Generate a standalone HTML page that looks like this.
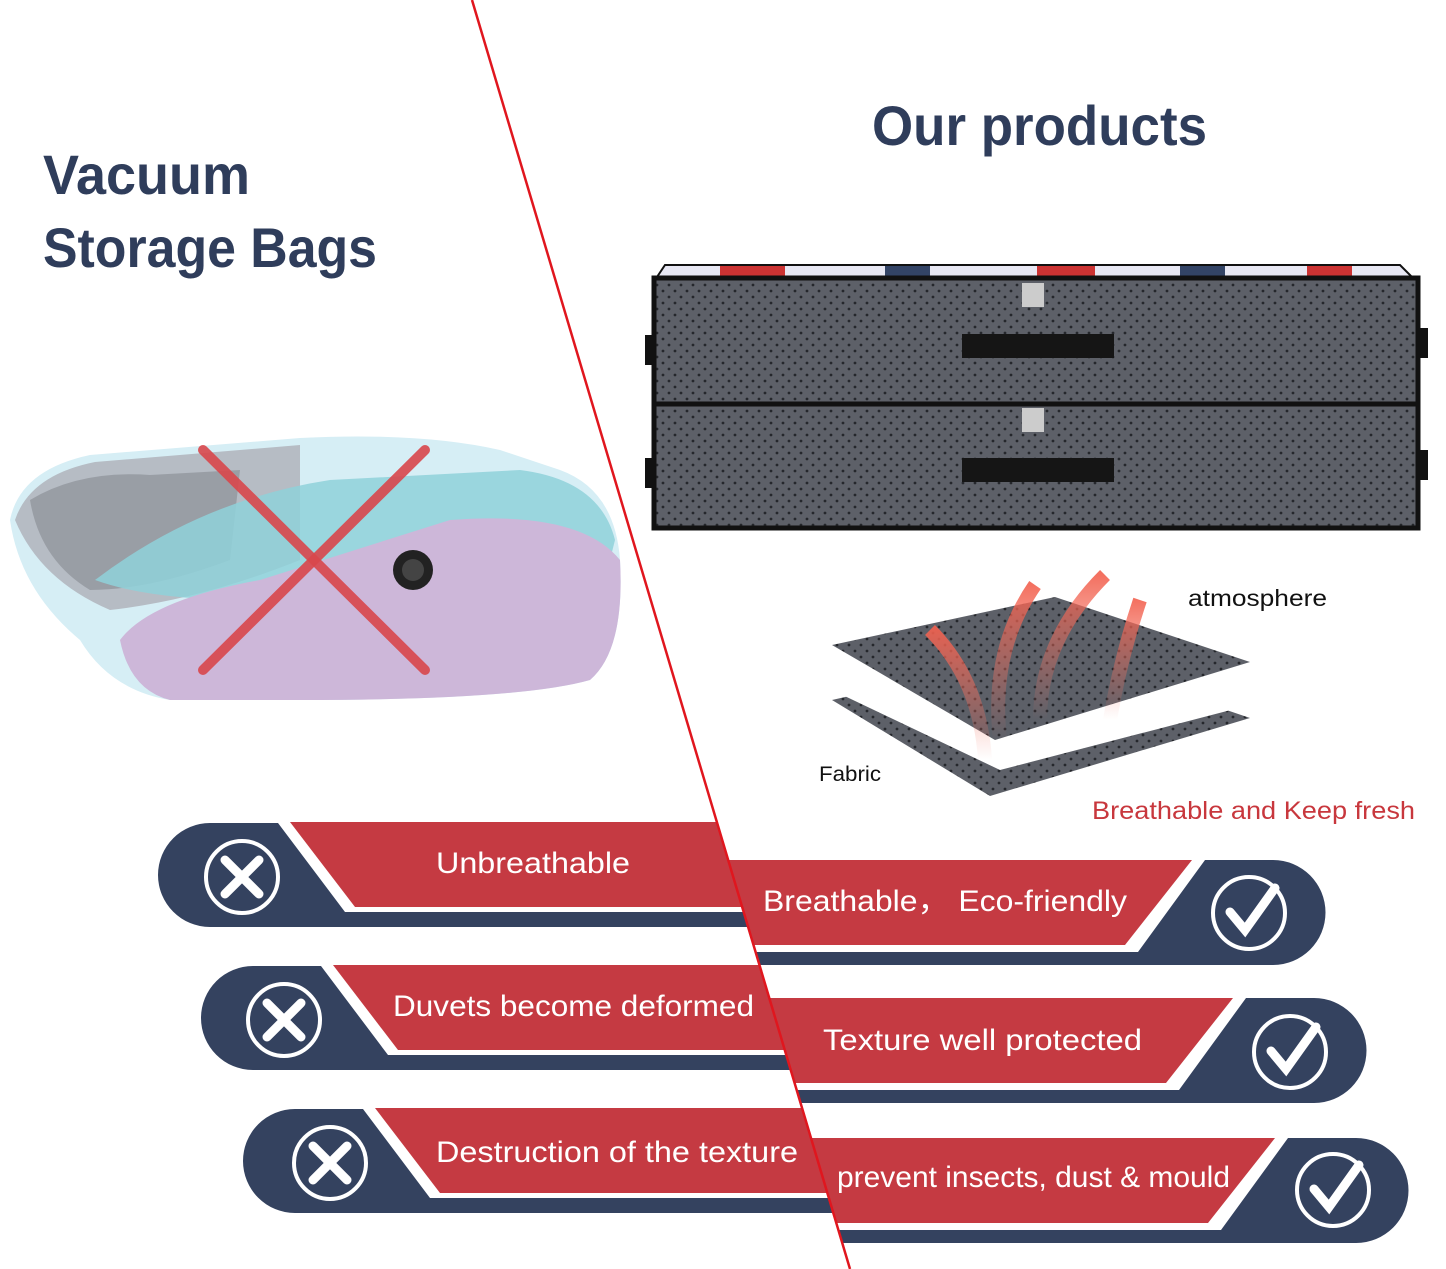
<!DOCTYPE html>
<html><head><meta charset="utf-8"><style>
body{margin:0;background:#fff}
svg{display:block}
text{font-family:"Liberation Sans","Noto Sans CJK SC",sans-serif}
</style></head><body>
<svg width="1446" height="1269" viewBox="0 0 1446 1269" xmlns="http://www.w3.org/2000/svg">
<defs>
<clipPath id="L"><polygon points="0,0 472,0 850,1269 0,1269"/></clipPath>
<clipPath id="R"><polygon points="472,0 1446,0 1446,1269 850,1269"/></clipPath>
<pattern id="dots" width="12" height="12" patternUnits="userSpaceOnUse">
<rect width="12" height="12" fill="#5d6068"/><circle cx="3" cy="3" r="1.4" fill="#25272c"/><circle cx="9" cy="9" r="1.4" fill="#25272c"/></pattern>
<linearGradient id="arr" x1="0" y1="1" x2="0" y2="0"><stop offset="0" stop-color="#f2796a" stop-opacity="0"/><stop offset="1" stop-color="#f2614f" stop-opacity="0.9"/></linearGradient>
</defs>

<text x="43" y="194" font-size="56" font-weight="bold" fill="#2f3d5b" textLength="207" lengthAdjust="spacingAndGlyphs">Vacuum</text>
<text x="43" y="267" font-size="56" font-weight="bold" fill="#2f3d5b" textLength="334" lengthAdjust="spacingAndGlyphs">Storage Bags</text>
<text x="872" y="145" font-size="56" font-weight="bold" fill="#2f3d5b" textLength="335" lengthAdjust="spacingAndGlyphs">Our products</text>

<g>
<path d="M10,520 Q20,470 90,455 L300,438 Q420,432 500,450 L560,470 Q615,490 620,560 Q625,650 590,680 Q520,700 300,700 L170,700 Q110,690 80,640 Q20,590 10,520Z" fill="#d6eef5"/>
<path d="M15,520 Q30,475 95,462 L300,445 L300,560 Q200,600 110,610 Q40,580 15,520Z" fill="#b6bcc4"/>
<path d="M30,500 Q80,470 150,475 L240,470 L230,560 Q150,590 90,590 Q40,560 30,500Z" fill="#8d9199" opacity="0.7"/>
<path d="M95,580 Q200,500 330,480 L520,470 Q600,480 615,540 L600,600 Q400,610 250,600 Q150,600 95,580Z" fill="#8fd1d9" opacity="0.85"/>
<path d="M120,640 Q150,600 260,580 L450,520 Q580,510 620,560 Q625,650 590,680 Q520,700 300,700 L170,700 Q130,690 120,640Z" fill="#cdb7d9"/>
<circle cx="413" cy="570" r="20" fill="#222"/><circle cx="413" cy="570" r="11" fill="#444"/>
<line x1="203" y1="450" x2="425" y2="670" stroke="#d9474c" stroke-width="10" stroke-linecap="round" opacity="0.9"/>
<line x1="425" y1="450" x2="203" y2="670" stroke="#d9474c" stroke-width="10" stroke-linecap="round" opacity="0.9"/>
</g>

<g>
<polygon points="665,265 1400,265 1415,280 655,280" fill="#e8e8f4" stroke="#111" stroke-width="2"/>
<rect x="720" y="266" width="65" height="13" fill="#c33"/><rect x="885" y="266" width="45" height="13" fill="#334466"/>
<rect x="1037" y="266" width="58" height="13" fill="#c33"/><rect x="1180" y="266" width="45" height="13" fill="#334466"/>
<rect x="1307" y="266" width="45" height="13" fill="#c33"/>
<rect x="654" y="278" width="764" height="128" fill="url(#dots)" stroke="#111" stroke-width="5"/>
<rect x="654" y="404" width="764" height="124" fill="url(#dots)" stroke="#111" stroke-width="5"/>
<rect x="962" y="334" width="152" height="24" fill="#151515"/>
<rect x="962" y="458" width="152" height="24" fill="#151515"/>
<rect x="1022" y="283" width="22" height="24" fill="#ccc"/><rect x="1022" y="408" width="22" height="24" fill="#ccc"/>
<rect x="645" y="335" width="10" height="30" fill="#111"/><rect x="645" y="458" width="10" height="30" fill="#111"/>
<rect x="1418" y="328" width="10" height="30" fill="#111"/><rect x="1418" y="450" width="10" height="30" fill="#111"/>
</g>

<polygon points="832,700 1050,650 1250,718 990,796" fill="url(#dots)"/>
<polygon points="832,690 1050,640 1250,705 1000,770" fill="#fff"/>
<polygon points="832,645 1055,597 1250,662 995,740" fill="url(#dots)"/>
<g fill="none" stroke="url(#arr)" stroke-width="14">
<path d="M985,760 Q980,680 930,630"/><path d="M1000,740 Q990,650 1035,585"/><path d="M1040,720 Q1040,640 1105,575"/><path d="M1110,720 Q1120,660 1140,600"/>
</g>
<text x="1188" y="606" font-size="23" fill="#111" textLength="139" lengthAdjust="spacingAndGlyphs">atmosphere</text>
<text x="819" y="781" font-size="21" fill="#111" textLength="62" lengthAdjust="spacingAndGlyphs">Fabric</text>
<text x="1092" y="819" font-size="25" fill="#c8373d" textLength="323" lengthAdjust="spacingAndGlyphs">Breathable and Keep fresh</text>

<g clip-path="url(#L)">
<g id="l1">
<path d="M210,823 L278,823 L345,912 L900,912 L900,927 L210,927 A52,52 0 0 1 210,823Z" fill="#34425f"/>
<polygon points="290,822 900,822 900,907 355,907" fill="#c53a42"/>
</g>
<use href="#l1" transform="translate(43,143)"/>
<use href="#l1" transform="translate(85,286)"/>
</g>
<g clip-path="url(#R)">
<g id="r1">
<path d="M600,952 L1138,952 L1205,860 L1273,860 A52.5,52.5 0 0 1 1273,965 L600,965Z" fill="#34425f"/>
<polygon points="600,860 1192,860 1125,945 600,945" fill="#c53a42"/>
</g>
<use href="#r1" transform="translate(41,138)"/>
<use href="#r1" transform="translate(83,278)"/>
</g>
<line x1="472" y1="0" x2="850" y2="1269" stroke="#e0161e" stroke-width="2.5"/>

<g fill="none" stroke="#fff" stroke-width="4">
<circle cx="242" cy="877" r="36"/><circle cx="284" cy="1020" r="36"/><circle cx="330" cy="1163" r="36"/>
<circle cx="1249" cy="913" r="36"/><circle cx="1290" cy="1052" r="36"/><circle cx="1333" cy="1190" r="36"/>
</g>
<g stroke="#fff" stroke-width="9" stroke-linecap="round" fill="none">
<path d="M225,860 L259,894 M259,860 L225,894"/>
<path d="M267,1003 L301,1037 M301,1003 L267,1037"/>
<path d="M313,1146 L347,1180 M347,1146 L313,1180"/>
<path d="M1230,912 L1245,930 L1275,888"/>
<path d="M1271,1051 L1286,1069 L1316,1027"/>
<path d="M1314,1189 L1329,1207 L1359,1165"/>
</g>

<g font-size="30" fill="#fff">
<text x="436" y="873" textLength="194" lengthAdjust="spacingAndGlyphs">Unbreathable</text>
<text x="393" y="1016" textLength="361" lengthAdjust="spacingAndGlyphs">Duvets become deformed</text>
<text x="436" y="1162" textLength="362" lengthAdjust="spacingAndGlyphs">Destruction of the texture</text>
<text x="763" y="911" textLength="364" lengthAdjust="spacingAndGlyphs">Breathable，  Eco-friendly</text>
<text x="823" y="1050" textLength="319" lengthAdjust="spacingAndGlyphs">Texture well protected</text>
<text x="837" y="1187" textLength="393" lengthAdjust="spacingAndGlyphs">prevent insects, dust &amp; mould</text>
</g>
</svg>
</body></html>
